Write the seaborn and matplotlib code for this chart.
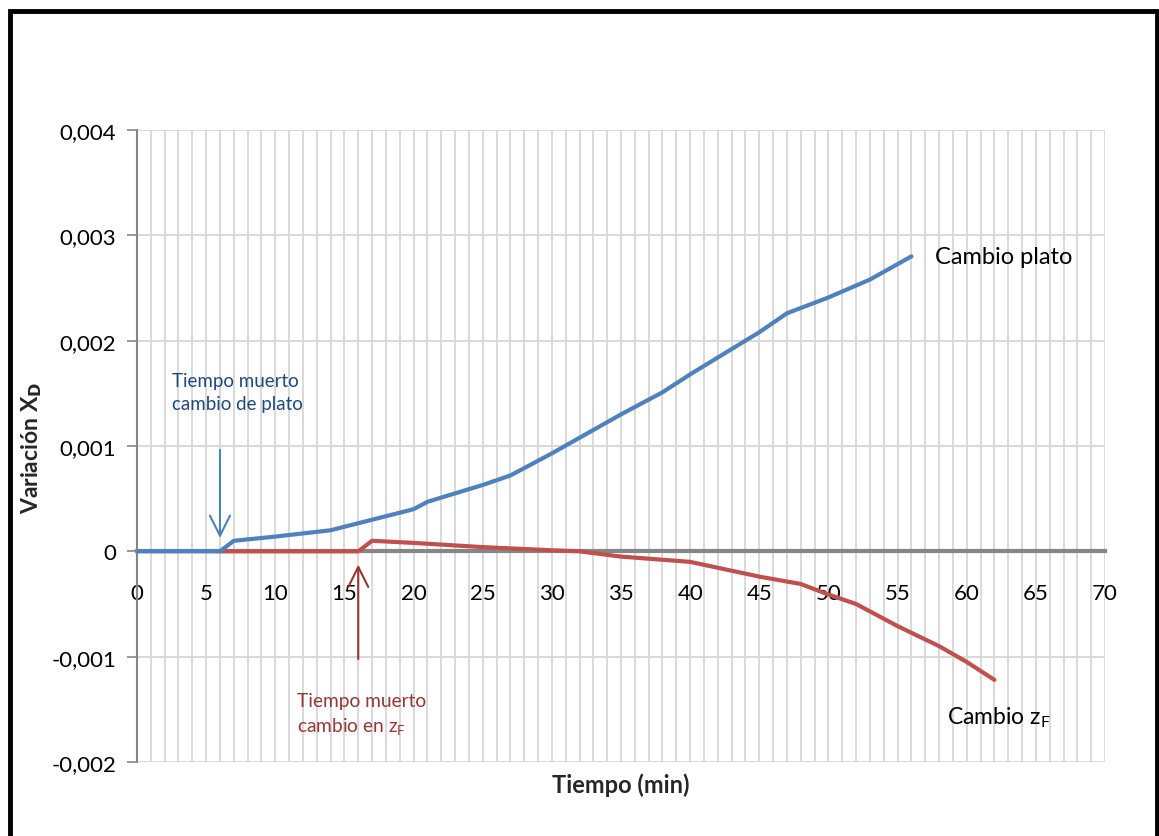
import matplotlib
matplotlib.use("Agg")
import matplotlib.pyplot as plt
import seaborn as sns
import pandas as pd
import numpy as np
from matplotlib.patches import Rectangle
from matplotlib.ticker import FuncFormatter, MultipleLocator

# ---- data ----
t_plato = [0, 1, 2, 3, 4, 5, 6, 7, 10, 14, 17, 20, 21, 25, 27, 30, 35, 38, 40, 43, 45, 47, 50, 53, 56]
x_plato = [0, 0, 0, 0, 0, 0, 0, 0.0001, 0.00014, 0.0002, 0.0003, 0.0004, 0.00047, 0.00063, 0.00072,
           0.00093, 0.0013, 0.00151, 0.00168, 0.00192, 0.00208, 0.00226, 0.00241, 0.00258, 0.0028]

t_zf = [6, 8, 10, 12, 14, 16, 17, 20, 25, 30, 32, 35, 40, 45, 48, 50, 52, 55, 58, 60, 62]
x_zf = [0, 0, 0, 0, 0, 0, 0.0001, 0.00008, 0.00004, 0.00001, 0.0, -0.00005, -0.0001, -0.00024,
        -0.00031, -0.00041, -0.0005, -0.00071, -0.0009, -0.00105, -0.00122]

blue = "#4F81BD"
red = "#C0504D"

df = pd.concat([
    pd.DataFrame({"t": t_plato, "x": x_plato, "serie": "Cambio plato"}),
    pd.DataFrame({"t": t_zf, "x": x_zf, "serie": "Cambio zF"}),
])

sns.set_theme(style="white")
plt.rcParams['font.family'] = ['Lato', 'DejaVu Sans']

fig = plt.figure(figsize=(11.59, 8.37), dpi=100)
ax = fig.add_axes([137/1159, 1 - 763/837, (1105-137)/1159, (763-131)/837])

ax.set_xlim(0, 70)
ax.set_ylim(-0.002, 0.004)

# gridlines
ax.xaxis.set_major_locator(MultipleLocator(5))
ax.xaxis.set_minor_locator(MultipleLocator(1))
ax.yaxis.set_major_locator(MultipleLocator(0.001))
ax.grid(True, which="both", axis="x", color="#D9D9D9", lw=1.4)
ax.grid(True, which="major", axis="y", color="#D9D9D9", lw=1.4)
ax.set_axisbelow(True)

sns.lineplot(data=df, x="t", y="x", hue="serie", palette=[blue, red],
             lw=3.0, ax=ax, legend=False, sort=False, estimator=None, zorder=4)
for ln in ax.lines:
    if matplotlib.colors.to_hex(ln.get_color()).upper() == blue.upper():
        ln.set_zorder(5)

# spines
for s in ["top", "right"]:
    ax.spines[s].set_visible(False)
ax.spines["bottom"].set_position(("data", 0))
ax.spines["bottom"].set_color("#868686")
ax.spines["bottom"].set_linewidth(3)
ax.spines["bottom"].set_zorder(3)
ax.spines["left"].set_color("#868686")
ax.spines["left"].set_linewidth(1.5)

ax.tick_params(axis="x", which="major", direction="out", length=6, width=3, color="#868686",
               labelsize=16, pad=17, labelcolor="black")
ax.tick_params(axis="x", which="minor", length=0)
ax.tick_params(axis="y", which="major", direction="out", length=7, width=1.2, color="#868686",
               labelsize=16, pad=8, labelcolor="black", left=True)

def yfmt(v, pos):
    if abs(v) < 1e-12:
        return "0"
    return f"{v:.3f}".replace(".", ",")
ax.yaxis.set_major_formatter(FuncFormatter(yfmt))
ax.xaxis.set_major_formatter(FuncFormatter(lambda v, p: f"{int(round(v))}"))

ax.set_xlabel("")
ax.set_ylabel("")
fig.text(621/1159, 1 - 785/837, "Tiempo (min)", ha="center", va="center",
         fontsize=17, fontweight="bold")
fig.text(32/1159, 1 - 448/837, "Variación X$_\\mathbf{D}$", ha="center", va="center",
         rotation=90, fontsize=16.5, fontweight="bold")

# annotations
ap = dict(arrowstyle="->,head_length=1.2,head_width=0.6", lw=1.5)
ax.annotate("", xy=(6, 0.0001), xytext=(6, 0.00099),
            arrowprops=dict(ap, color=blue))
ax.text(2.5, 0.00151, "Tiempo muerto\ncambio de plato", color="#1F497D", fontsize=13.5,
        ha="left", va="center", linespacing=1.4)

ax.annotate("", xy=(16, -0.0001), xytext=(16, -0.00105),
            arrowprops=dict(ap, color="#953735"))
ax.text(11.6, -0.00155, "Tiempo muerto\ncambio en z$_\\mathregular{F}$", color="#953735", fontsize=13.8,
        ha="left", va="center", linespacing=1.4)

ax.text(57.7, 0.0028, "Cambio plato", color="black", fontsize=17, ha="left", va="center")
ax.text(58.6, -0.00157, "Cambio z$_\\mathregular{F}$", color="black", fontsize=16.5, ha="left", va="center")

# outer border
fig.patches.append(Rectangle((9.5/1159, -0.05), (1156.5-9.5)/1159, 1.05 - 11.5/837,
                             transform=fig.transFigure, fill=False, ec="black", lw=3.5))

fig.savefig("out.png", dpi=100)
